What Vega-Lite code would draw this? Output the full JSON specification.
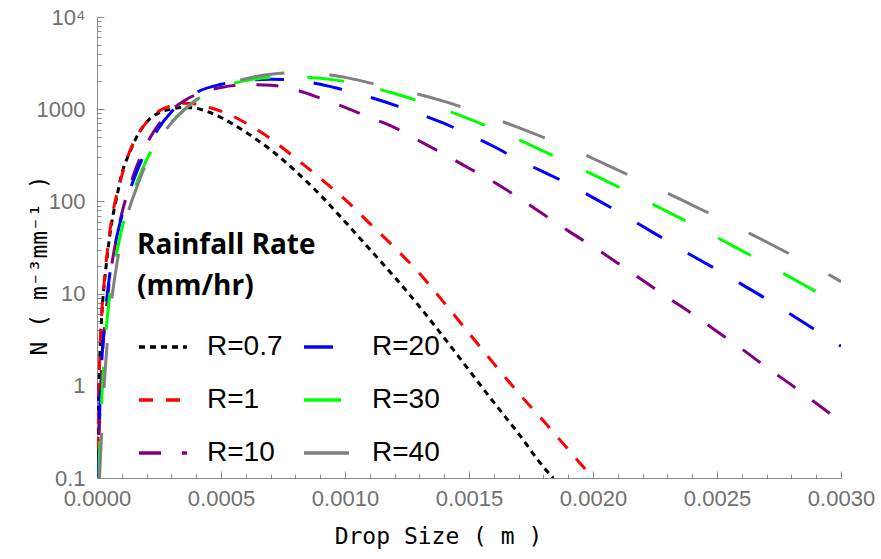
{
  "$schema": "https://vega.github.io/schema/vega-lite/v6.json",
  "width": 744,
  "height": 461,
  "autosize": {"type": "none"},
  "padding": {"left": 97, "top": 17, "right": 40, "bottom": 81},
  "background": "white",
  "config": {
    "view": {"stroke": null},
    "legend": {
      "orient": "none",
      "legendX": 40,
      "legendY": 215,
      "padding": 0,
      "columns": 2,
      "columnPadding": 14,
      "rowPadding": 13,
      "titleFont": "Open Sans",
      "titleFontWeight": "bold",
      "titleFontSize": 28,
      "titleLineHeight": 41,
      "titleColor": "#000000",
      "titlePadding": 20,
      "labelFont": "Liberation Sans",
      "labelFontSize": 28,
      "labelColor": "#000000",
      "labelOffset": 18,
      "symbolType": "stroke",
      "symbolSize": 2304,
      "symbolStrokeWidth": 3.5
    }
  },
  "data": {
    "values": [
      {"R": "R=0.7", "D": 0.0000025, "N": 0.1},
      {"R": "R=0.7", "D": 0.000005, "N": 0.398},
      {"R": "R=0.7", "D": 0.00001, "N": 1.585},
      {"R": "R=0.7", "D": 0.00002, "N": 6.31},
      {"R": "R=0.7", "D": 0.00003, "N": 13.2},
      {"R": "R=0.7", "D": 0.00004, "N": 24.0},
      {"R": "R=0.7", "D": 0.00006, "N": 60.3},
      {"R": "R=0.7", "D": 0.00008, "N": 112},
      {"R": "R=0.7", "D": 0.0001, "N": 200},
      {"R": "R=0.7", "D": 0.00013, "N": 331},
      {"R": "R=0.7", "D": 0.00016, "N": 501},
      {"R": "R=0.7", "D": 0.0002, "N": 724},
      {"R": "R=0.7", "D": 0.00025, "N": 912},
      {"R": "R=0.7", "D": 0.0003, "N": 1000},
      {"R": "R=0.7", "D": 0.00035, "N": 1047},
      {"R": "R=0.7", "D": 0.0004, "N": 1023},
      {"R": "R=0.7", "D": 0.00045, "N": 933},
      {"R": "R=0.7", "D": 0.0005, "N": 813},
      {"R": "R=0.7", "D": 0.0006, "N": 562},
      {"R": "R=0.7", "D": 0.0007, "N": 363},
      {"R": "R=0.7", "D": 0.0008, "N": 214},
      {"R": "R=0.7", "D": 0.0009, "N": 117.5},
      {"R": "R=0.7", "D": 0.001, "N": 60.3},
      {"R": "R=0.7", "D": 0.0011, "N": 30.2},
      {"R": "R=0.7", "D": 0.0012, "N": 15.1},
      {"R": "R=0.7", "D": 0.0013, "N": 7.24},
      {"R": "R=0.7", "D": 0.0014, "N": 3.31},
      {"R": "R=0.7", "D": 0.0015, "N": 1.48},
      {"R": "R=0.7", "D": 0.0016, "N": 0.661},
      {"R": "R=0.7", "D": 0.0017, "N": 0.302},
      {"R": "R=0.7", "D": 0.0018, "N": 0.132},
      {"R": "R=0.7", "D": 0.00184, "N": 0.1},

      {"R": "R=1", "D": 0.0000025, "N": 0.1},
      {"R": "R=1", "D": 0.000005, "N": 0.398},
      {"R": "R=1", "D": 0.00001, "N": 1.585},
      {"R": "R=1", "D": 0.00002, "N": 6.61},
      {"R": "R=1", "D": 0.00003, "N": 14.1},
      {"R": "R=1", "D": 0.00004, "N": 26.3},
      {"R": "R=1", "D": 0.00006, "N": 66.1},
      {"R": "R=1", "D": 0.00008, "N": 120},
      {"R": "R=1", "D": 0.0001, "N": 190},
      {"R": "R=1", "D": 0.00013, "N": 339},
      {"R": "R=1", "D": 0.00016, "N": 501},
      {"R": "R=1", "D": 0.0002, "N": 724},
      {"R": "R=1", "D": 0.00025, "N": 955},
      {"R": "R=1", "D": 0.0003, "N": 1096},
      {"R": "R=1", "D": 0.00035, "N": 1161},
      {"R": "R=1", "D": 0.0004, "N": 1135},
      {"R": "R=1", "D": 0.00045, "N": 1047},
      {"R": "R=1", "D": 0.0005, "N": 955},
      {"R": "R=1", "D": 0.0006, "N": 708},
      {"R": "R=1", "D": 0.0007, "N": 479},
      {"R": "R=1", "D": 0.0008, "N": 295},
      {"R": "R=1", "D": 0.0009, "N": 178},
      {"R": "R=1", "D": 0.001, "N": 105},
      {"R": "R=1", "D": 0.0011, "N": 57.5},
      {"R": "R=1", "D": 0.0012, "N": 31.6},
      {"R": "R=1", "D": 0.0013, "N": 16.6},
      {"R": "R=1", "D": 0.0014, "N": 7.94},
      {"R": "R=1", "D": 0.0015, "N": 3.72},
      {"R": "R=1", "D": 0.0016, "N": 1.74},
      {"R": "R=1", "D": 0.0017, "N": 0.832},
      {"R": "R=1", "D": 0.0018, "N": 0.417},
      {"R": "R=1", "D": 0.0019, "N": 0.204},
      {"R": "R=1", "D": 0.002, "N": 0.1},

      {"R": "R=10", "D": 0.000005, "N": 0.1},
      {"R": "R=10", "D": 0.00001, "N": 0.398},
      {"R": "R=10", "D": 0.00002, "N": 1.778},
      {"R": "R=10", "D": 0.00003, "N": 4.17},
      {"R": "R=10", "D": 0.00004, "N": 7.94},
      {"R": "R=10", "D": 0.00006, "N": 20.9},
      {"R": "R=10", "D": 0.00008, "N": 41.7},
      {"R": "R=10", "D": 0.0001, "N": 74.1},
      {"R": "R=10", "D": 0.00013, "N": 141},
      {"R": "R=10", "D": 0.00016, "N": 240},
      {"R": "R=10", "D": 0.0002, "N": 417},
      {"R": "R=10", "D": 0.00025, "N": 692},
      {"R": "R=10", "D": 0.0003, "N": 977},
      {"R": "R=10", "D": 0.00035, "N": 1230},
      {"R": "R=10", "D": 0.0004, "N": 1445},
      {"R": "R=10", "D": 0.0005, "N": 1718},
      {"R": "R=10", "D": 0.0006, "N": 1841},
      {"R": "R=10", "D": 0.0007, "N": 1820},
      {"R": "R=10", "D": 0.0008, "N": 1622},
      {"R": "R=10", "D": 0.0009, "N": 1318},
      {"R": "R=10", "D": 0.001, "N": 1047},
      {"R": "R=10", "D": 0.0011, "N": 813},
      {"R": "R=10", "D": 0.0012, "N": 631},
      {"R": "R=10", "D": 0.0013, "N": 452},
      {"R": "R=10", "D": 0.0014, "N": 324},
      {"R": "R=10", "D": 0.0015, "N": 229},
      {"R": "R=10", "D": 0.0016, "N": 162},
      {"R": "R=10", "D": 0.0017, "N": 110},
      {"R": "R=10", "D": 0.0018, "N": 72.4},
      {"R": "R=10", "D": 0.0019, "N": 47.9},
      {"R": "R=10", "D": 0.002, "N": 32.4},
      {"R": "R=10", "D": 0.0021, "N": 21.4},
      {"R": "R=10", "D": 0.0022, "N": 13.96},
      {"R": "R=10", "D": 0.0023, "N": 9.12},
      {"R": "R=10", "D": 0.0024, "N": 6.03},
      {"R": "R=10", "D": 0.0025, "N": 3.89},
      {"R": "R=10", "D": 0.0026, "N": 2.51},
      {"R": "R=10", "D": 0.0027, "N": 1.585},
      {"R": "R=10", "D": 0.0028, "N": 1.023},
      {"R": "R=10", "D": 0.0029, "N": 0.646},
      {"R": "R=10", "D": 0.003, "N": 0.407},

      {"R": "R=20", "D": 0.000006, "N": 0.1},
      {"R": "R=20", "D": 0.00001, "N": 0.447},
      {"R": "R=20", "D": 0.00002, "N": 2.0},
      {"R": "R=20", "D": 0.00003, "N": 4.79},
      {"R": "R=20", "D": 0.00004, "N": 9.12},
      {"R": "R=20", "D": 0.00005, "N": 15.1},
      {"R": "R=20", "D": 0.00006, "N": 22.4},
      {"R": "R=20", "D": 0.00008, "N": 41.7},
      {"R": "R=20", "D": 0.0001, "N": 69.2},
      {"R": "R=20", "D": 0.00013, "N": 126},
      {"R": "R=20", "D": 0.00016, "N": 209},
      {"R": "R=20", "D": 0.0002, "N": 363},
      {"R": "R=20", "D": 0.00025, "N": 631},
      {"R": "R=20", "D": 0.0003, "N": 933},
      {"R": "R=20", "D": 0.00035, "N": 1230},
      {"R": "R=20", "D": 0.0004, "N": 1514},
      {"R": "R=20", "D": 0.0005, "N": 1862},
      {"R": "R=20", "D": 0.0006, "N": 2042},
      {"R": "R=20", "D": 0.0007, "N": 2113},
      {"R": "R=20", "D": 0.0008, "N": 2065},
      {"R": "R=20", "D": 0.0009, "N": 1862},
      {"R": "R=20", "D": 0.001, "N": 1603},
      {"R": "R=20", "D": 0.0011, "N": 1349},
      {"R": "R=20", "D": 0.0012, "N": 1109},
      {"R": "R=20", "D": 0.0013, "N": 891},
      {"R": "R=20", "D": 0.0014, "N": 700},
      {"R": "R=20", "D": 0.0015, "N": 531},
      {"R": "R=20", "D": 0.0016, "N": 394},
      {"R": "R=20", "D": 0.0017, "N": 282},
      {"R": "R=20", "D": 0.0018, "N": 209},
      {"R": "R=20", "D": 0.0019, "N": 155},
      {"R": "R=20", "D": 0.002, "N": 110},
      {"R": "R=20", "D": 0.0021, "N": 77.6},
      {"R": "R=20", "D": 0.0022, "N": 53.7},
      {"R": "R=20", "D": 0.0023, "N": 37.2},
      {"R": "R=20", "D": 0.0024, "N": 25.7},
      {"R": "R=20", "D": 0.0025, "N": 18.2},
      {"R": "R=20", "D": 0.0026, "N": 12.6},
      {"R": "R=20", "D": 0.0027, "N": 8.71},
      {"R": "R=20", "D": 0.0028, "N": 5.89},
      {"R": "R=20", "D": 0.0029, "N": 3.98},
      {"R": "R=20", "D": 0.003, "N": 2.69},

      {"R": "R=30", "D": 0.000008, "N": 0.1},
      {"R": "R=30", "D": 0.00001, "N": 0.178},
      {"R": "R=30", "D": 0.00002, "N": 0.794},
      {"R": "R=30", "D": 0.00003, "N": 2.24},
      {"R": "R=30", "D": 0.00004, "N": 5.01},
      {"R": "R=30", "D": 0.00005, "N": 8.91},
      {"R": "R=30", "D": 0.00006, "N": 14.1},
      {"R": "R=30", "D": 0.00008, "N": 28.2},
      {"R": "R=30", "D": 0.0001, "N": 50.1},
      {"R": "R=30", "D": 0.00013, "N": 95.5},
      {"R": "R=30", "D": 0.00016, "N": 158},
      {"R": "R=30", "D": 0.0002, "N": 282},
      {"R": "R=30", "D": 0.00025, "N": 479},
      {"R": "R=30", "D": 0.0003, "N": 724},
      {"R": "R=30", "D": 0.00035, "N": 977},
      {"R": "R=30", "D": 0.0004, "N": 1259},
      {"R": "R=30", "D": 0.0005, "N": 1738},
      {"R": "R=30", "D": 0.0006, "N": 2042},
      {"R": "R=30", "D": 0.0007, "N": 2213},
      {"R": "R=30", "D": 0.0008, "N": 2239},
      {"R": "R=30", "D": 0.0009, "N": 2163},
      {"R": "R=30", "D": 0.001, "N": 1995},
      {"R": "R=30", "D": 0.0011, "N": 1738},
      {"R": "R=30", "D": 0.0012, "N": 1479},
      {"R": "R=30", "D": 0.0013, "N": 1216},
      {"R": "R=30", "D": 0.0014, "N": 989},
      {"R": "R=30", "D": 0.0015, "N": 785},
      {"R": "R=30", "D": 0.0016, "N": 610},
      {"R": "R=30", "D": 0.0017, "N": 468},
      {"R": "R=30", "D": 0.0018, "N": 351},
      {"R": "R=30", "D": 0.0019, "N": 263},
      {"R": "R=30", "D": 0.002, "N": 195},
      {"R": "R=30", "D": 0.0021, "N": 144.5},
      {"R": "R=30", "D": 0.0022, "N": 105.9},
      {"R": "R=30", "D": 0.0023, "N": 77.6},
      {"R": "R=30", "D": 0.0024, "N": 56.2},
      {"R": "R=30", "D": 0.0025, "N": 40.7},
      {"R": "R=30", "D": 0.0026, "N": 29.2},
      {"R": "R=30", "D": 0.0027, "N": 20.9},
      {"R": "R=30", "D": 0.0028, "N": 14.8},
      {"R": "R=30", "D": 0.0029, "N": 10.5},
      {"R": "R=30", "D": 0.003, "N": 7.41},

      {"R": "R=40", "D": 0.00001, "N": 0.1},
      {"R": "R=40", "D": 0.00002, "N": 0.355},
      {"R": "R=40", "D": 0.00003, "N": 1.122},
      {"R": "R=40", "D": 0.00004, "N": 2.63},
      {"R": "R=40", "D": 0.00005, "N": 5.25},
      {"R": "R=40", "D": 0.00006, "N": 8.91},
      {"R": "R=40", "D": 0.00008, "N": 20.9},
      {"R": "R=40", "D": 0.0001, "N": 39.8},
      {"R": "R=40", "D": 0.00013, "N": 83.2},
      {"R": "R=40", "D": 0.00016, "N": 141},
      {"R": "R=40", "D": 0.0002, "N": 263},
      {"R": "R=40", "D": 0.00025, "N": 468},
      {"R": "R=40", "D": 0.0003, "N": 708},
      {"R": "R=40", "D": 0.00035, "N": 977},
      {"R": "R=40", "D": 0.0004, "N": 1259},
      {"R": "R=40", "D": 0.0005, "N": 1758},
      {"R": "R=40", "D": 0.0006, "N": 2138},
      {"R": "R=40", "D": 0.0007, "N": 2399},
      {"R": "R=40", "D": 0.0008, "N": 2483},
      {"R": "R=40", "D": 0.0009, "N": 2427},
      {"R": "R=40", "D": 0.001, "N": 2213},
      {"R": "R=40", "D": 0.0011, "N": 1928},
      {"R": "R=40", "D": 0.0012, "N": 1660},
      {"R": "R=40", "D": 0.0013, "N": 1445},
      {"R": "R=40", "D": 0.0014, "N": 1216},
      {"R": "R=40", "D": 0.0015, "N": 989},
      {"R": "R=40", "D": 0.0016, "N": 794},
      {"R": "R=40", "D": 0.0017, "N": 631},
      {"R": "R=40", "D": 0.0018, "N": 495},
      {"R": "R=40", "D": 0.0019, "N": 385},
      {"R": "R=40", "D": 0.002, "N": 292},
      {"R": "R=40", "D": 0.0021, "N": 219},
      {"R": "R=40", "D": 0.0022, "N": 164},
      {"R": "R=40", "D": 0.0023, "N": 123},
      {"R": "R=40", "D": 0.0024, "N": 91.2},
      {"R": "R=40", "D": 0.0025, "N": 67.6},
      {"R": "R=40", "D": 0.0026, "N": 49.5},
      {"R": "R=40", "D": 0.0027, "N": 36.3},
      {"R": "R=40", "D": 0.0028, "N": 26.3},
      {"R": "R=40", "D": 0.0029, "N": 19.05},
      {"R": "R=40", "D": 0.003, "N": 13.5}
    ]
  },
  "mark": {"type": "line", "strokeWidth": 3, "interpolate": "monotone", "clip": true},
  "encoding": {
    "x": {
      "field": "D",
      "type": "quantitative",
      "scale": {"domain": [0, 0.003], "nice": false, "zero": false},
      "axis": {
        "values": [0, 0.0001, 0.0002, 0.0003, 0.0004, 0.0005, 0.0006, 0.0007, 0.0008, 0.0009, 0.001, 0.0011, 0.0012, 0.0013, 0.0014, 0.0015, 0.0016, 0.0017, 0.0018, 0.0019, 0.002, 0.0021, 0.0022, 0.0023, 0.0024, 0.0025, 0.0026, 0.0027, 0.0028, 0.0029, 0.003],
        "labelExpr": "abs(datum.value*2000 - round(datum.value*2000)) < 0.001 ? format(datum.value, '.4f') : ''",
        "tickSize": {"condition": {"test": "abs(datum.value*2000 - round(datum.value*2000)) < 0.001", "value": -7}, "value": -4},
        "labelPadding": 17,
        "labelOverlap": false,
        "labelFlush": false,
        "labelFont": "Liberation Sans",
        "labelFontSize": 22,
        "labelColor": "#707070",
        "domainColor": "#8a8a8a",
        "tickColor": "#8a8a8a",
        "grid": false,
        "title": "Drop Size ( m )",
        "titleFont": "DejaVu Sans Mono",
        "titleFontSize": 23,
        "titleFontWeight": "normal",
        "titleColor": "#000000",
        "titleX": 341,
        "titleY": 65,
        "titleBaseline": "alphabetic"
      }
    },
    "y": {
      "field": "N",
      "type": "quantitative",
      "scale": {"type": "log", "domain": [0.1, 10000], "nice": false},
      "axis": {
        "values": [0.1, 0.2, 0.3, 0.4, 0.5, 0.6, 0.7, 0.8, 0.9, 1, 2, 3, 4, 5, 6, 7, 8, 9, 10, 20, 30, 40, 50, 60, 70, 80, 90, 100, 200, 300, 400, 500, 600, 700, 800, 900, 1000, 2000, 3000, 4000, 5000, 6000, 7000, 8000, 9000, 10000],
        "labelExpr": "datum.value > 9999 ? '10⁴' : (abs(log(datum.value)/LN10 - round(log(datum.value)/LN10)) < 0.001 ? (datum.value < 1 ? '0.1' : format(datum.value, 'd')) : '')",
        "tickSize": {"condition": {"test": "abs(log(datum.value)/LN10 - round(log(datum.value)/LN10)) < 0.001", "value": -7}, "value": -4},
        "labelPadding": 19,
        "labelOverlap": false,
        "labelFlush": false,
        "labelFont": "Liberation Sans",
        "labelFontSize": 22,
        "labelColor": "#707070",
        "domainColor": "#8a8a8a",
        "tickColor": "#8a8a8a",
        "grid": false,
        "title": "N ( m⁻³mm⁻¹ )",
        "titleFont": "DejaVu Sans Mono",
        "titleFontSize": 23,
        "titleFontWeight": "normal",
        "titleColor": "#000000",
        "titleX": -51,
        "titleY": 248,
        "titleBaseline": "alphabetic"
      }
    },
    "color": {
      "field": "R",
      "type": "nominal",
      "scale": {
        "domain": ["R=0.7", "R=1", "R=10", "R=20", "R=30", "R=40"],
        "range": ["#000000", "#ff0000", "#800080", "#0000ff", "#00ff00", "#808080"]
      },
      "legend": {"title": ["Rainfall Rate", "(mm/hr)"]}
    },
    "strokeDash": {
      "field": "R",
      "type": "nominal",
      "scale": {
        "domain": ["R=0.7", "R=1", "R=10", "R=20", "R=30", "R=40"],
        "range": [[6, 5], [14, 13], [22, 21], [29, 30], [37, 37], [45, 45]]
      },
      "legend": {"title": ["Rainfall Rate", "(mm/hr)"]}
    }
  }
}
